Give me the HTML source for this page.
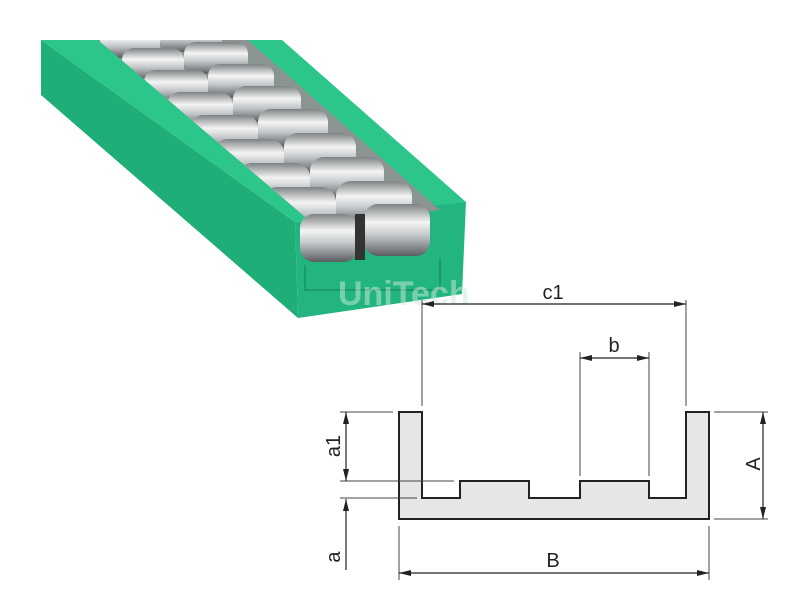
<!DOCTYPE html>
<html><head><style>
html,body{margin:0;padding:0;background:#fff;width:800px;height:600px;overflow:hidden}
svg text{font-family:"Liberation Sans",sans-serif;fill:#222}
</style></head><body>
<svg width="800" height="600" viewBox="0 0 800 600" xmlns="http://www.w3.org/2000/svg">
<defs>
<linearGradient id="rl" x1="0" y1="0" x2="0" y2="1">
<stop offset="0" stop-color="#7e8284"/><stop offset="0.35" stop-color="#f4f4f4"/><stop offset="0.6" stop-color="#c4c8ca"/><stop offset="1" stop-color="#5a5e60"/>
</linearGradient>
<marker id="ar" viewBox="0 0 12 6" refX="12" refY="3" markerWidth="12" markerHeight="6" orient="auto-start-reverse" markerUnits="userSpaceOnUse">
<path d="M0,0 L12,3 L0,6 z" fill="#222"/></marker>
<clipPath id="ch"><polygon points="98,40 248,40 440,210 318,228"/></clipPath>
</defs>
<polygon points="41,40 41,95 298,318 295,222" fill="#1fae77"/>
<polygon points="41,40 100,40 312,220 295,222" fill="#2cc68a"/>
<polygon points="245,40 282,40 466,202 436,208" fill="#2cc68a"/>
<polygon points="295,222 466,202 462,294 298,318" fill="#22b57f"/>
<polygon points="98,40 248,40 440,210 318,228" fill="#8a9490"/>
<g clip-path="url(#ch)">
<rect x="100" y="28" width="60" height="30" rx="11" fill="url(#rl)"/>
<rect x="160" y="22" width="62" height="30" rx="11" fill="url(#rl)"/>
<rect x="122" y="48" width="62" height="32" rx="12" fill="url(#rl)"/>
<rect x="184" y="42" width="64" height="32" rx="12" fill="url(#rl)"/>
<rect x="144" y="70" width="64" height="34" rx="12" fill="url(#rl)"/>
<rect x="208" y="64" width="66" height="34" rx="12" fill="url(#rl)"/>
<rect x="167" y="92" width="66" height="36" rx="13" fill="url(#rl)"/>
<rect x="233" y="86" width="68" height="36" rx="13" fill="url(#rl)"/>
<rect x="190" y="115" width="68" height="38" rx="13" fill="url(#rl)"/>
<rect x="258" y="109" width="70" height="38" rx="13" fill="url(#rl)"/>
<rect x="214" y="139" width="70" height="40" rx="14" fill="url(#rl)"/>
<rect x="284" y="133" width="72" height="40" rx="14" fill="url(#rl)"/>
<rect x="238" y="163" width="72" height="42" rx="14" fill="url(#rl)"/>
<rect x="310" y="157" width="74" height="42" rx="14" fill="url(#rl)"/>
<rect x="262" y="187" width="74" height="44" rx="15" fill="url(#rl)"/>
<rect x="336" y="181" width="76" height="44" rx="15" fill="url(#rl)"/>
</g>
<rect x="300" y="214" width="58" height="48" rx="14" fill="url(#rl)"/>
<rect x="364" y="204" width="66" height="52" rx="14" fill="url(#rl)"/>
<rect x="355" y="214" width="10" height="46" fill="#333"/>
<path d="M305,265 V290 H440 V258" fill="none" stroke="#1a9a6a" stroke-width="2"/>
<text x="338" y="305" font-size="34" style="fill:#cfe9dd;opacity:0.5" font-weight="bold">UniTech</text>
<path d="M399,412 H422 V498 H460 V481 H529 V498 H580 V481 H649 V498 H686 V412 H709 V519 H399 Z" fill="#e6e6e6" stroke="#222" stroke-width="2"/>
<g stroke="#444" stroke-width="1" fill="none">
<line x1="422" y1="300" x2="422" y2="406"/>
<line x1="686" y1="300" x2="686" y2="406"/>
<line x1="580" y1="352" x2="580" y2="476"/>
<line x1="649" y1="352" x2="649" y2="476"/>
<line x1="714" y1="412" x2="768" y2="412"/>
<line x1="714" y1="519" x2="768" y2="519"/>
<line x1="399" y1="526" x2="399" y2="580"/>
<line x1="709" y1="526" x2="709" y2="580"/>
<line x1="340" y1="412" x2="393" y2="412"/>
<line x1="340" y1="481" x2="454" y2="481"/>
<line x1="340" y1="498" x2="417" y2="498"/>
</g>
<g stroke="#222" stroke-width="1.2" fill="none">
<line x1="422" y1="304" x2="686" y2="304" marker-start="url(#ar)" marker-end="url(#ar)"/>
<line x1="580" y1="358" x2="649" y2="358" marker-start="url(#ar)" marker-end="url(#ar)"/>
<line x1="763" y1="412" x2="763" y2="519" marker-start="url(#ar)" marker-end="url(#ar)"/>
<line x1="399" y1="573" x2="709" y2="573" marker-start="url(#ar)" marker-end="url(#ar)"/>
<line x1="346" y1="412" x2="346" y2="481" marker-start="url(#ar)" marker-end="url(#ar)"/>
<line x1="346" y1="570" x2="346" y2="499" marker-end="url(#ar)"/>
</g>
<text x="553" y="299" font-size="20" text-anchor="middle">c1</text>
<text x="614" y="352" font-size="20" text-anchor="middle">b</text>
<text x="553" y="567" font-size="20" text-anchor="middle">B</text>
<text transform="translate(760,464) rotate(-90)" font-size="20" text-anchor="middle">A</text>
<text transform="translate(340,446) rotate(-90)" font-size="20" text-anchor="middle">a1</text>
<text transform="translate(340,557) rotate(-90)" font-size="20" text-anchor="middle">a</text>
</svg>
</body></html>
